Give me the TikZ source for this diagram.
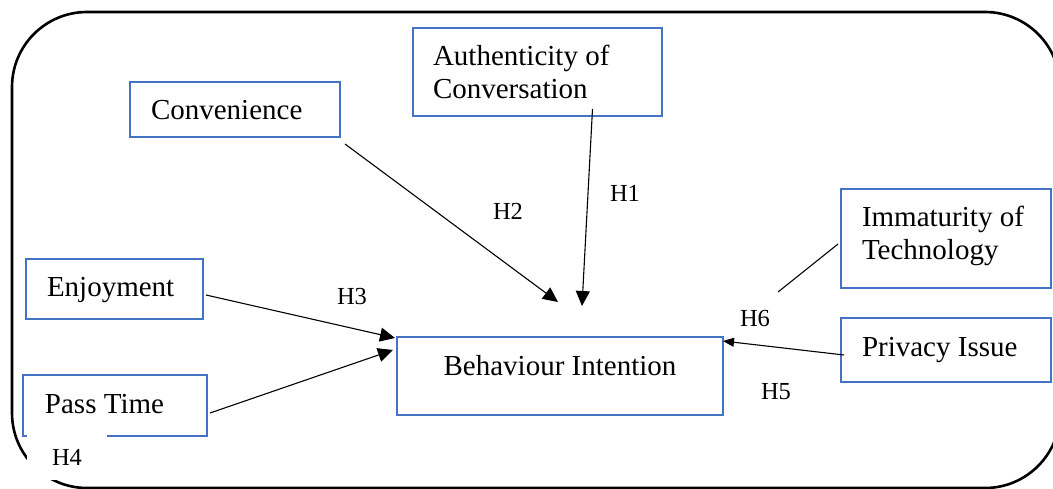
\documentclass[tikz,border=0pt]{standalone}
\usepackage{fontspec}
\setmainfont{Liberation Serif}
\usetikzlibrary{arrows.meta}
\definecolor{boxblue}{RGB}{68,114,196}
\begin{document}
\begin{tikzpicture}[x=1pt,y=-1pt,
  box/.style={draw=boxblue, line width=2pt, inner ysep=0pt, inner xsep=0pt,
    font=\fontsize{29}{33}\selectfont, text height=38pt},
  lbox/.style={box, align=flush left},
  hlab/.style={font=\fontsize{24.5}{29}\selectfont, inner sep=0pt},
  conn/.style={line width=1.1pt},
  arr/.style={conn, -{Triangle[length=15pt,width=14pt]}},
  sarr/.style={conn, -{Triangle[length=11pt,width=9pt]}}]
\useasboundingbox (0,0) rectangle (1053,489);
\begin{scope}
\clip (0,0) rectangle (1053,489);
% outer frame
\draw[line width=2.6pt, rounded corners=75pt] (12,12) rectangle (1060,488);
\end{scope}
% boxes
\node[lbox, minimum width=210pt, minimum height=55pt, text width=168pt, text depth=17pt] (conv) at (235,109.5) {Convenience};
\node[lbox, minimum width=249pt, minimum height=88pt, text width=209pt, text depth=50pt] (auth) at (537.5,72) {Authenticity of\\Conversation};
\node[lbox, minimum width=177pt, minimum height=60pt, text width=135pt, text depth=22pt] (enj) at (114.5,289) {Enjoyment};
\node[lbox, minimum width=184pt, minimum height=61pt, text width=140pt, text depth=23pt] (pass) at (115,405.5) {Pass Time};
\node[box, minimum width=326pt, minimum height=78pt, text depth=40pt] (bi) at (560,376) {Behaviour Intention};
\node[lbox, minimum width=210pt, minimum height=99pt, text width=168pt, text depth=61pt] (imm) at (946,238.5) {Immaturity of\\Technology};
\node[lbox, minimum width=210pt, minimum height=64pt, text width=168pt, text depth=26pt] (priv) at (946,350) {Privacy Issue};
% connectors
\draw[arr] ([shift={(4,6)}]conv.south east) -- ([shift={(-2,-34)}]bi.north);
\draw[arr] ([shift={(55,-8)}]auth.south) -- ([shift={(22,-30)}]bi.north);
\draw[arr] ([shift={(2,6)}]enj.east) -- ([shift={(-1,2)}]bi.north west);
\draw[arr] ([shift={(2,7.5)}]pass.east) -- ([shift={(-3,14)}]bi.north west);
\draw[sarr] ([shift={(4,5)}]priv.west) -- ([shift={(-1,5)}]bi.north east);
\coordinate (h6end) at (778,292);
\draw[conn] ([shift={(-2,5.5)}]imm.west) -- (h6end);
% labels
\node[hlab] (h1) at (625,193) {H1};
\node[hlab] (h2) at (508,211) {H2};
\node[hlab] (h3) at (352,297) {H3};
\node[hlab] (h5) at (776,392) {H5};
\node[hlab] (h6) at (755,319) {H6};
\node[hlab, fill=white, minimum width=80pt, minimum height=45pt] (h4) at (67,457.5) {H4};
\end{tikzpicture}
\end{document}
